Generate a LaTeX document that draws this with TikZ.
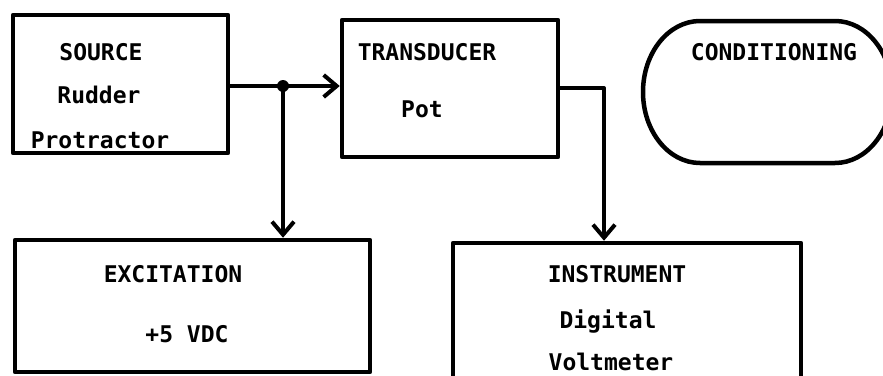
\documentclass[tikz,border=0pt]{standalone}
\usepackage{fontspec}
\newfontfamily\monofont{DejaVu Sans Mono}
\usetikzlibrary{arrows.meta}
\tikzset{
  box/.style={draw, line width=4.5pt, rectangle, inner sep=0pt, line join=round},
  lbl/.style={anchor=base, inner sep=0pt, font=\monofont\bfseries\fontsize{23}{28}\selectfont},
  conn/.style={line width=4pt},
  arr/.style={conn, -{Straight Barb[length=13pt,width=22pt,line width=4pt]}},
}
\begin{document}
\begin{tikzpicture}[x=1pt,y=-1pt]
\clip (0,0) rectangle (883,375);
\fill[white] (0,0) rectangle (883,375);
% boxes
\node[box, minimum width=215pt, minimum height=138pt] (src) at (120.5,84) {};
\node[box, minimum width=216pt, minimum height=137pt] (trans) at (450,88.5) {};
\node[box, minimum width=355pt, minimum height=132pt] (exc) at (192.5,306) {};
\node[box, minimum width=348pt, minimum height=160pt] (inst) at (627,323) {};
% conditioning shape
\draw[line width=4.5pt] (700,21) -- (835,21) arc[start angle=-90, end angle=90, x radius=57, y radius=71]
  -- (700,163) arc[start angle=90, end angle=270, x radius=57, y radius=71] -- cycle;
% texts
\node[lbl] (t1) at (101,60) {SOURCE};
\node[lbl] (t2) at (99,103) {Rudder};
\node[lbl] (t3) at (100,148) {Protractor};
\node[lbl] (t4) at (427,60) {TRANSDUCER};
\node[lbl] (t5) at (422,117) {Pot};
\node[lbl] (t6) at (774,60) {CONDITIONING};
\node[lbl] (t7) at (173,282) {EXCITATION};
\node[lbl] (t8) at (187,342) {+5 VDC};
\node[lbl] (t9) at (617,282) {INSTRUMENT};
\node[lbl] (t10) at (608,328) {Digital};
\node[lbl] (t11) at (611,370) {Voltmeter};
% connectors
\coordinate (j) at (283,86);
\coordinate (k) at (604,88);
\draw[conn] (src.east |- j) -- (j);
\draw[arr] (j) -- (trans.west |- j);
\draw[arr] (j) -- (exc.north -| j);
\fill (j) circle (6pt);
\draw[conn, line join=round] (trans.east |- k) -- (k) -- ++(0,10);
\draw[arr] (k) -- (inst.north -| k);
\end{tikzpicture}
\end{document}
